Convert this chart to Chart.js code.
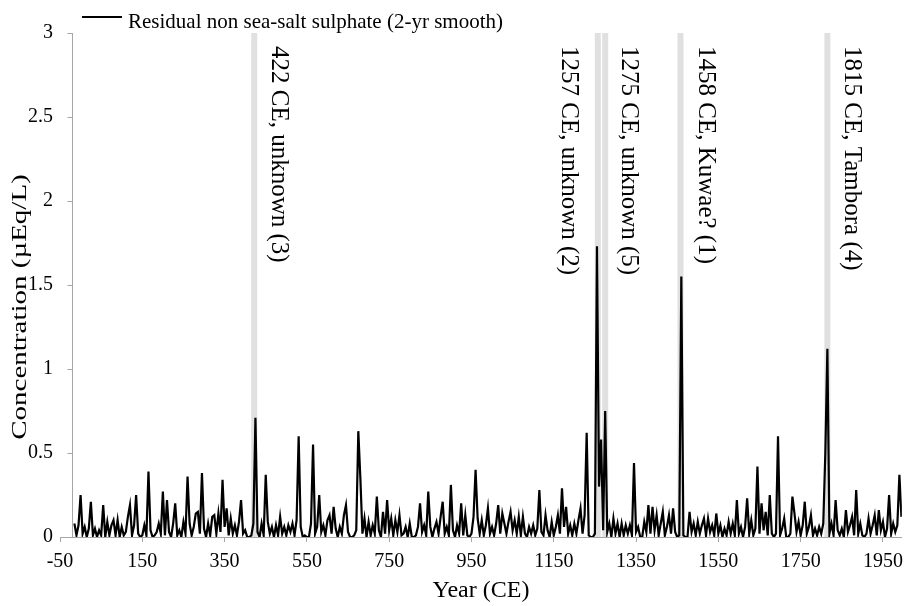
<!DOCTYPE html>
<html>
<head>
<meta charset="utf-8">
<script src="https://cdn.jsdelivr.net/npm/chart.js@4.4.1/dist/chart.umd.min.js"></script>
<style>
  html, body { margin: 0; padding: 0; background: #fff; }
  canvas { display: block; }
</style>
</head>
<body>
<canvas id="sulphateChart" width="911" height="606"></canvas>
<script>
// 2-yr smoothed residual nss sulphate, every 5 years from -15 CE
const startYear = -15;
const yearStep = 5;
const sulphate = [
    0.08, 0.01, 0.07, 0.25, 0.02, 0.06, 0.00, 0.05, 0.21, 0.01,
    0.05, 0.00, 0.04, 0.01, 0.19, 0.00, 0.09, 0.01, 0.07, 0.10,
    0.01, 0.10, 0.00, 0.06, 0.01, 0.03, 0.12, 0.19, 0.01, 0.07,
    0.25, 0.02, 0.00, 0.01, 0.07, 0.01, 0.39, 0.04, 0.00, 0.01,
    0.03, 0.08, 0.02, 0.27, 0.01, 0.22, 0.03, 0.00, 0.08, 0.20,
    0.01, 0.04, 0.00, 0.09, 0.02, 0.36, 0.08, 0.01, 0.06, 0.14,
    0.15, 0.02, 0.38, 0.05, 0.00, 0.08, 0.01, 0.12, 0.13, 0.02,
    0.14, 0.03, 0.34, 0.06, 0.17, 0.01, 0.11, 0.02, 0.07, 0.01,
    0.09, 0.22, 0.02, 0.04, 0.00, 0.00, 0.01, 0.08, 0.71, 0.03,
    0.00, 0.08, 0.01, 0.37, 0.09, 0.02, 0.06, 0.00, 0.07, 0.01,
    0.12, 0.02, 0.06, 0.01, 0.07, 0.03, 0.08, 0.01, 0.10, 0.60,
    0.06, 0.00, 0.01, 0.00, 0.00, 0.08, 0.55, 0.02, 0.06, 0.25,
    0.03, 0.07, 0.01, 0.10, 0.13, 0.02, 0.18, 0.05, 0.00, 0.06,
    0.02, 0.13, 0.19, 0.03, 0.00, 0.00, 0.01, 0.04, 0.63, 0.35,
    0.02, 0.11, 0.00, 0.09, 0.01, 0.07, 0.02, 0.24, 0.04, 0.00,
    0.15, 0.02, 0.22, 0.04, 0.11, 0.01, 0.10, 0.03, 0.13, 0.01,
    0.02, 0.06, 0.00, 0.08, 0.00, 0.00, 0.01, 0.06, 0.20, 0.03,
    0.07, 0.01, 0.27, 0.06, 0.00, 0.05, 0.09, 0.02, 0.12, 0.21,
    0.02, 0.06, 0.01, 0.31, 0.04, 0.00, 0.07, 0.02, 0.20, 0.01,
    0.13, 0.01, 0.00, 0.02, 0.12, 0.40, 0.11, 0.02, 0.10, 0.01,
    0.07, 0.17, 0.02, 0.06, 0.01, 0.08, 0.19, 0.02, 0.14, 0.08,
    0.02, 0.09, 0.15, 0.04, 0.10, 0.02, 0.12, 0.01, 0.12, 0.02,
    0.00, 0.06, 0.02, 0.07, 0.01, 0.05, 0.28, 0.03, 0.01, 0.13,
    0.04, 0.00, 0.09, 0.01, 0.06, 0.13, 0.02, 0.29, 0.06, 0.18,
    0.02, 0.07, 0.01, 0.08, 0.02, 0.10, 0.17, 0.02, 0.13, 0.62,
    0.01, 0.00, 0.00, 0.02, 1.73, 0.30, 0.58, 0.04, 0.75, 0.03,
    0.08, 0.00, 0.11, 0.02, 0.08, 0.00, 0.08, 0.01, 0.07, 0.02,
    0.07, 0.01, 0.44, 0.03, 0.06, 0.00, 0.00, 0.09, 0.03, 0.19,
    0.02, 0.18, 0.04, 0.13, 0.01, 0.08, 0.15, 0.01, 0.06, 0.13,
    0.02, 0.17, 0.03, 0.00, 0.01, 1.55, 0.01, 0.00, 0.00, 0.15,
    0.03, 0.08, 0.01, 0.09, 0.02, 0.07, 0.11, 0.01, 0.11, 0.03,
    0.07, 0.01, 0.14, 0.02, 0.07, 0.00, 0.05, 0.01, 0.09, 0.02,
    0.08, 0.01, 0.22, 0.02, 0.06, 0.00, 0.06, 0.23, 0.02, 0.10,
    0.01, 0.05, 0.42, 0.02, 0.20, 0.04, 0.15, 0.01, 0.25, 0.02,
    0.00, 0.02, 0.60, 0.01, 0.05, 0.11, 0.00, 0.00, 0.02, 0.24,
    0.14, 0.03, 0.09, 0.01, 0.07, 0.21, 0.02, 0.06, 0.13, 0.01,
    0.05, 0.01, 0.06, 0.02, 0.08, 0.50, 1.12, 0.02, 0.08, 0.01,
    0.22, 0.04, 0.01, 0.05, 0.00, 0.16, 0.03, 0.07, 0.12, 0.01,
    0.28, 0.02, 0.08, 0.01, 0.00, 0.02, 0.11, 0.02, 0.07, 0.13,
    0.01, 0.16, 0.04, 0.09, 0.00, 0.05, 0.25, 0.02, 0.08, 0.03,
    0.07, 0.37, 0.12
];
const years = sulphate.map((_, i) => startYear + i * yearStep);

const eventYears = [422, 1257, 1275, 1458, 1815];
const eventLabels = [
    '422 CE, unknown (3)',
    '1257 CE, unknown (2)',
    '1275 CE, unknown (5)',
    '1458 CE, Kuwae? (1)',
    '1815 CE, Tambora (4)'
];

const xTicks = [-50, 150, 350, 550, 750, 950, 1150, 1350, 1550, 1750, 1950];
const yTicks = [0, 0.5, 1, 1.5, 2, 2.5, 3];
const seriesLabel = 'Residual non sea-salt sulphate (2-yr smooth)';
const yTitle = 'Concentration (µEq/L)';

const serif = "'Liberation Serif', 'Times New Roman', serif";
const axisGrey = '#a6a6a6';

// y axis sits at about -21 CE, not at the left end of the x axis
const yAxisAt = -21;

const yAxisLine = {
    id: 'yAxisLine',
    afterDatasetsDraw(chart) {
        const { ctx, chartArea, scales: { x, y } } = chart;
        const px = Math.round(x.getPixelForValue(yAxisAt)) + 0.5;
        ctx.save();
        ctx.strokeStyle = axisGrey;
        ctx.lineWidth = 1;
        ctx.beginPath();
        ctx.moveTo(px, chartArea.top);
        ctx.lineTo(px, chartArea.bottom);
        yTicks.forEach(v => {
            const py = Math.round(y.getPixelForValue(v)) + 0.5;
            ctx.moveTo(px - 5, py);
            ctx.lineTo(px, py);
        });
        ctx.stroke();
        ctx.restore();
    }
};

// y title in the source is drawn tall and narrow, so stretch it along its length
const stretchedYTitle = {
    id: 'stretchedYTitle',
    afterDraw(chart, args, opts) {
        const { ctx } = chart;
        ctx.save();
        ctx.fillStyle = '#000';
        ctx.font = opts.font;
        ctx.textAlign = 'center';
        ctx.textBaseline = 'middle';
        ctx.translate(opts.x, opts.y);
        ctx.rotate(-Math.PI / 2);
        ctx.scale(opts.stretch, 1);
        ctx.fillText(yTitle, 0, 0);
        ctx.restore();
    }
};

const eventText = {
    id: 'eventText',
    afterDatasetsDraw(chart, args, opts) {
        const { ctx, scales: { x } } = chart;
        ctx.save();
        ctx.fillStyle = '#000';
        ctx.font = opts.font;
        ctx.textAlign = 'left';
        ctx.textBaseline = 'middle';
        eventYears.forEach((yr, i) => {
            ctx.save();
            ctx.translate(x.getPixelForValue(yr) + opts.offsets[i], opts.top);
            ctx.rotate(Math.PI / 2);
            ctx.fillText(eventLabels[i], 0, 0);
            ctx.restore();
        });
        ctx.restore();
    }
};

const lineLegend = {
    id: 'lineLegend',
    afterDraw(chart) {
        const { ctx } = chart;
        const ds = chart.data.datasets[0];
        ctx.save();
        ctx.strokeStyle = ds.borderColor;
        ctx.lineWidth = 2;
        ctx.beginPath();
        ctx.moveTo(82, 17);
        ctx.lineTo(122, 17);
        ctx.stroke();
        ctx.fillStyle = '#000';
        ctx.font = '21px ' + serif;
        ctx.textBaseline = 'alphabetic';
        ctx.fillText(ds.label, 128, 28);
        ctx.restore();
    }
};

const bandSets = eventYears.map(yr => ({
    label: yr + ' CE',
    data: [{ x: yr, y: 0 }, { x: yr, y: 3 }],
    borderColor: '#e0e0e0',
    borderWidth: 6,
    pointRadius: 0,
    order: 2
}));

new Chart(document.getElementById('sulphateChart'), {
    type: 'line',
    data: {
        datasets: [
            {
                label: seriesLabel,
                data: years.map((yr, i) => ({ x: yr, y: sulphate[i] })),
                borderColor: '#000',
                borderWidth: 2.2,
                pointRadius: 0,
                tension: 0,
                order: 1
            },
            ...bandSets
        ]
    },
    options: {
        responsive: false,
        animation: false,
        layout: { padding: { top: 33, right: 3, left: 0, bottom: 0 } },
        plugins: {
            legend: { display: false },
            tooltip: { enabled: false },
            eventText: { font: '25px ' + serif, top: 46, offsets: [24, -29, 23, 25, 24] },
            stretchedYTitle: { font: '20px ' + serif, x: 21, y: 307, stretch: 1.45 }
        },
        scales: {
            x: {
                type: 'linear',
                min: -50,
                max: 1996,
                afterBuildTicks: s => { s.ticks = xTicks.map(v => ({ value: v })); },
                afterFit: s => { s.height = 69; },
                border: { color: axisGrey },
                grid: { drawOnChartArea: false, color: axisGrey, tickLength: 5 },
                ticks: {
                    color: '#000',
                    font: { family: serif, size: 20 },
                    padding: 8,
                    maxRotation: 0,
                    callback: v => String(v)
                },
                title: {
                    display: true,
                    text: 'Year (CE)',
                    color: '#000',
                    font: { family: serif, size: 24 },
                    padding: { top: 0, bottom: 1 }
                }
            },
            y: {
                min: 0,
                max: 3,
                afterBuildTicks: s => { s.ticks = yTicks.map(v => ({ value: v })); },
                afterFit: s => { s.width = 60; },
                border: { display: false },
                grid: { display: false, drawTicks: false },
                ticks: {
                    color: '#000',
                    font: { family: serif, size: 20 },
                    padding: 7,
                    callback: v => String(v)
                }
            }
        }
    },
    plugins: [yAxisLine, eventText, lineLegend, stretchedYTitle]
});
</script>
</body>
</html>
